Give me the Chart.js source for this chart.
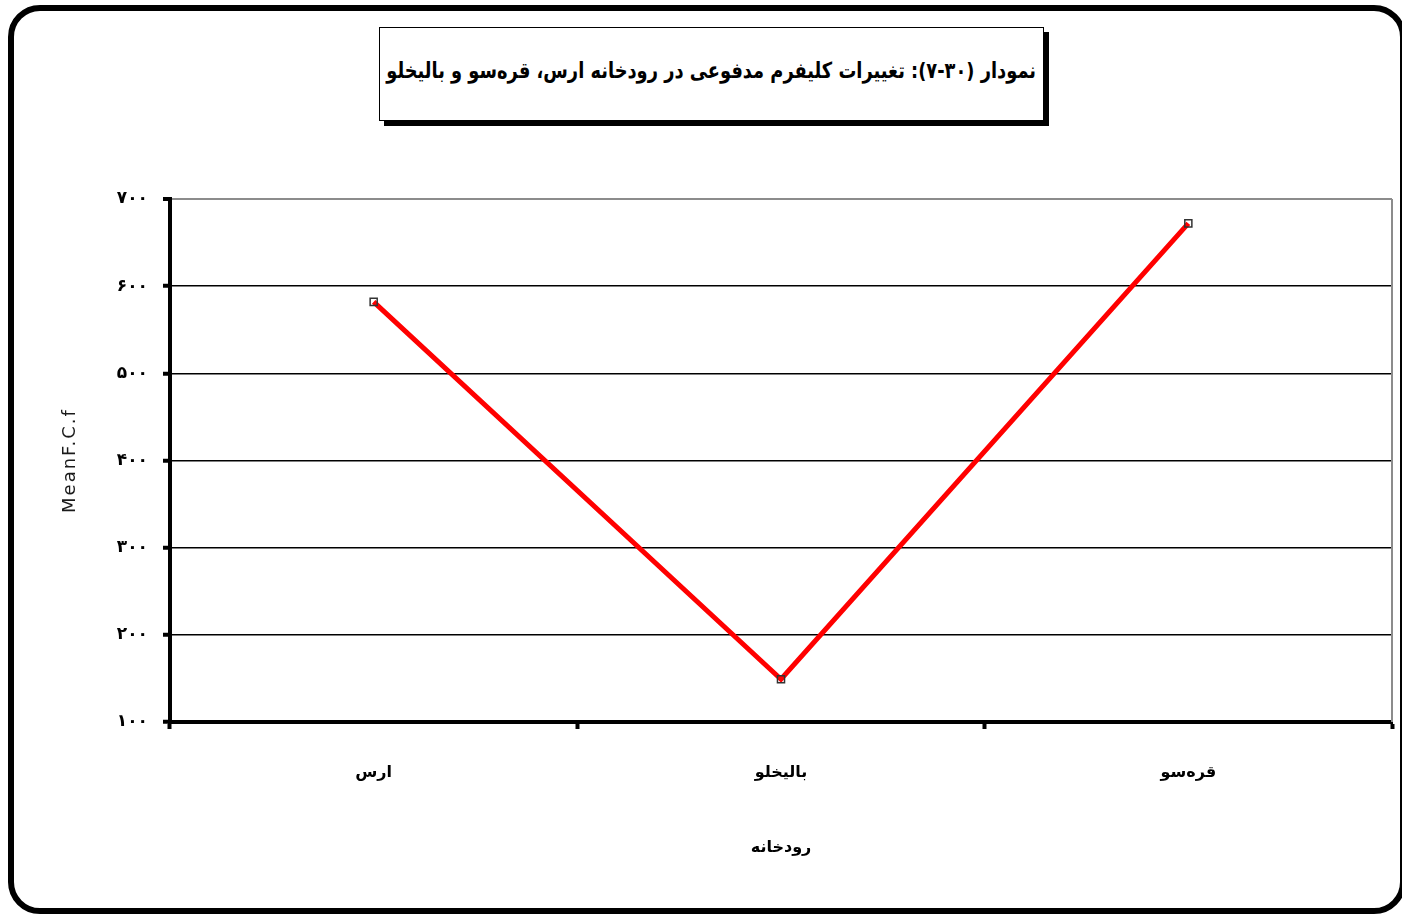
<!DOCTYPE html>
<html lang="fa">
<head>
<meta charset="utf-8">
<script src="https://cdn.jsdelivr.net/npm/chart.js@4.4.1/dist/chart.umd.min.js"></script>
<style>
  html, body { margin: 0; padding: 0; background: #fff; }
  body { width: 1402px; height: 915px; position: relative; overflow: hidden; }
  #frame {
    position: absolute; left: 8px; top: 5px; width: 1398px; height: 909px;
    box-sizing: border-box; border: 6px solid #000; border-radius: 32px;
  }
  #titleBox {
    position: absolute; left: 379px; top: 27px; width: 665px; height: 94px;
    box-sizing: border-box; border: 1px solid #000; box-shadow: 5px 5px 0 #000;
    background: #fff; display: flex; align-items: center; justify-content: center;
    padding-bottom: 8px;
  }
  #titleBox span {
    display: inline-block; white-space: nowrap; direction: rtl;
    font: bold 22px "DejaVu Sans", sans-serif;
    transform: scaleX(0.81); transform-origin: center;
  }
  #chart { position: absolute; left: 0; top: 0; }
</style>
</head>
<body>
<div id="frame"></div>
<div id="titleBox"><span>نمودار (۳۰-۷): تغییرات کلیفرم مدفوعی در رودخانه ارس، قره‌سو و بالیخلو</span></div>
<canvas id="chart" width="1402" height="915"></canvas>
<script>
// Rivers along the x axis and their mean faecal coliform counts
const categories = ['ارس', 'بالیخلو', 'قره\u200cسو'];
const meanFCF = [582, 149, 672];
const yMin = 100;
const yMax = 700;
const yStep = 100;
const yTitle = 'MeanF.C.f';
const xTitle = 'رودخانه';

const faDigits = '۰۱۲۳۴۵۶۷۸۹';
const toFa = n => String(n).replace(/\d/g, d => faDigits[+d]);

// gray edge on the right side of the plot area, and spaced letters for the y title
const plotExtras = {
  id: 'plotExtras',
  beforeDraw(chart) {
    const s = chart.scales.y;
    if (s && !s._spacedTitle) {
      const draw = s.drawTitle.bind(s);
      s.drawTitle = function () {
        const c = this.ctx;
        const prev = c.letterSpacing;
        c.letterSpacing = '2px';
        draw();
        c.letterSpacing = prev;
      };
      s._spacedTitle = true;
    }
  },
  afterDraw(chart) {
    const { ctx, chartArea: a } = chart;
    ctx.save();
    ctx.strokeStyle = '#8c8c8c';
    ctx.lineWidth = 2;
    ctx.beginPath();
    ctx.moveTo(a.right, a.top);
    ctx.lineTo(a.right, a.bottom);
    ctx.stroke();
    ctx.restore();
  }
};

new Chart(document.getElementById('chart'), {
  type: 'line',
  data: {
    labels: categories,
    datasets: [{
      data: meanFCF,
      borderColor: '#ff0000',
      borderWidth: 5,
      tension: 0,
      pointStyle: 'rect',
      pointRadius: 5,
      pointBorderColor: '#333',
      pointBorderWidth: 1.5,
      pointBackgroundColor: 'rgba(0,0,0,0)'
    }]
  },
  options: {
    responsive: false,
    animation: false,
    devicePixelRatio: 1,
    layout: { padding: { top: 199, right: 10, left: 0, bottom: 0 } },
    plugins: { legend: { display: false }, tooltip: { enabled: false } },
    scales: {
      x: {
        offset: true,
        afterFit(scale) { scale.height = 915 - 722; },
        grid: { drawOnChartArea: false, drawTicks: true, tickLength: 7, tickColor: '#000', tickWidth: 4, offset: true },
        border: { color: '#000', width: 4 },
        ticks: { color: '#000', padding: 34, font: { family: 'DejaVu Sans', size: 16, weight: 'bold' } },
        title: { display: true, text: xTitle, color: '#000', padding: { top: 0, bottom: 58 },
                 font: { family: 'DejaVu Sans', size: 16, weight: 'bold' } }
      },
      y: {
        min: yMin, max: yMax,
        afterFit(scale) { scale.width = 170; },
        grid: {
          color: c => (c.tick && c.tick.value === yMax) ? '#8c8c8c' : '#000',
          lineWidth: c => (c.tick && c.tick.value === yMax) ? 2 : 1.5,
          tickLength: 7, tickColor: '#000', tickWidth: 4
        },
        border: { color: '#000', width: 4 },
        ticks: { stepSize: yStep, color: '#000', padding: 15, callback: v => toFa(v),
                 font: { family: 'DejaVu Sans', size: 17, weight: 'bold' } },
        title: { display: true, text: yTitle, color: '#1a1a1a', padding: { top: 60, bottom: 0 },
                 font: { family: 'DejaVu Sans', size: 18 } }
      }
    }
  },
  plugins: [plotExtras]
});
</script>
</body>
</html>
